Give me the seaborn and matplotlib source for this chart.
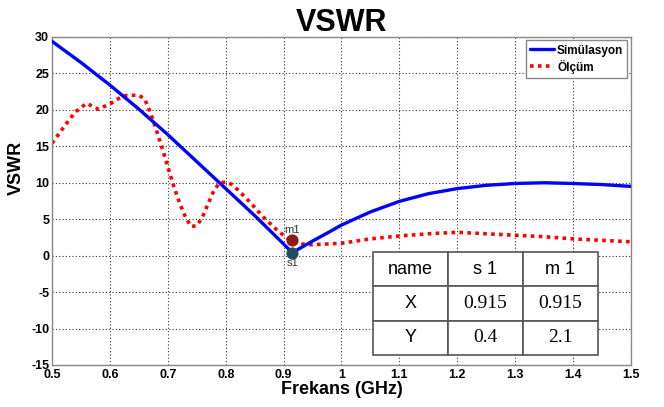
import matplotlib
matplotlib.use("Agg")
import matplotlib.pyplot as plt
import seaborn as sns
import pandas as pd
from matplotlib import font_manager

sns.set_theme(style="white")
names = {f.name for f in font_manager.fontManager.ttflist}
if "Liberation Sans Narrow" in names:
    sans, tick_size = "Liberation Sans Narrow", 10.5
elif "DejaVu Sans Condensed" in names:
    sans, tick_size = "DejaVu Sans Condensed", 10
else:
    sans, tick_size = "Liberation Sans", 9
plt.rcParams["font.family"] = [sans, "DejaVu Sans"]
plt.rcParams["axes.unicode_minus"] = False
plt.rcParams["text.color"] = "black"
plt.rcParams["axes.labelcolor"] = "black"

# Simulated VSWR
sim_freq = [0.50, 0.55, 0.60, 0.65, 0.70, 0.75, 0.80, 0.85, 0.90, 0.915,
            0.95, 0.98, 1.00, 1.05, 1.10, 1.15, 1.20, 1.25, 1.30, 1.35, 1.40, 1.45, 1.50]
sim_vswr = [29.4, 26.5, 23.4, 20.1, 16.6, 12.9, 9.2, 5.5, 1.6, 0.4,
            2.0, 3.3, 4.2, 6.0, 7.45, 8.5, 9.2, 9.65, 9.9, 10.0, 9.9, 9.75, 9.5]

# Measured VSWR
meas_freq = [0.50, 0.52, 0.54, 0.56, 0.58, 0.60, 0.62, 0.63, 0.65, 0.66, 0.67, 0.68,
             0.69, 0.70, 0.71, 0.72, 0.73, 0.74, 0.75, 0.76, 0.77, 0.78, 0.79, 0.80,
             0.81, 0.82, 0.84, 0.865, 0.89, 0.91, 0.93, 0.95, 1.00, 1.05, 1.10, 1.15,
             1.20, 1.25, 1.30, 1.35, 1.40, 1.45, 1.50]
meas_vswr = [15.4, 17.6, 19.7, 20.9, 20.1, 20.8, 21.8, 22.0, 22.0, 21.5, 19.6, 17.3,
             14.8, 12.2, 9.6, 7.3, 5.4, 4.0, 4.1, 5.3, 7.2, 9.0, 10.0, 10.1,
             9.8, 9.1, 7.5, 5.3, 3.4, 2.2, 1.6, 1.5, 1.7, 2.3, 2.7, 3.0,
             3.2, 3.0, 2.8, 2.6, 2.3, 2.1, 1.9]

# Data cursor markers
marker_names = ["s 1", "m 1"]
marker_x = [0.915, 0.915]
marker_y = [0.4, 2.1]

x_ticks = [0.5, 0.6, 0.7, 0.8, 0.9, 1.0, 1.1, 1.2, 1.3, 1.4, 1.5]
x_tick_labels = ["0.5", "0.6", "0.7", "0.8", "0.9", "1", "1.1", "1.2", "1.3", "1.4", "1.5"]
y_ticks = [-15, -10, -5, 0, 5, 10, 15, 20, 25, 30]

fig = plt.figure(figsize=(6.64, 4.07), dpi=100)
ax = fig.add_axes([0.0783, 0.1032, 0.872, 0.806])

sim = pd.DataFrame({"f": sim_freq, "v": sim_vswr})
meas = pd.DataFrame({"f": meas_freq, "v": meas_vswr})
sns.lineplot(data=sim, x="f", y="v", ax=ax, color="#0000ff", lw=2.4,
             label="Simülasyon", zorder=3)
sns.lineplot(data=meas, x="f", y="v", ax=ax, color="#ff0000", lw=2.6,
             linestyle=(0, (1, 1.2)), label="Ölçüm", zorder=2)

ax.scatter([marker_x[0]], [marker_y[0]], s=60, color="#1f4f5f", zorder=5)
ax.scatter([marker_x[1]], [marker_y[1]], s=60, color="#8b1a1a", zorder=5)
ax.text(marker_x[1], marker_y[1] + 0.8, "m1", fontsize=8, ha="center", va="bottom",
        color="#333333", zorder=6)
ax.text(marker_x[0], marker_y[0] - 0.7, "s1", fontsize=8, ha="center", va="top",
        color="#333333", zorder=6)

ax.set_xlim(0.5, 1.5)
ax.set_ylim(-15, 30)
ax.set_xticks(x_ticks)
ax.set_xticklabels(x_tick_labels)
ax.set_yticks(y_ticks)
ax.tick_params(direction="in", length=4, labelsize=tick_size, pad=2, colors="#000000")
ax.tick_params(axis="x", pad=3)
for lbl in ax.get_xticklabels() + ax.get_yticklabels():
    lbl.set_fontweight("bold")
ax.grid(True, color="#333333", linestyle=(0, (1, 2)), linewidth=0.8)
for sp in ax.spines.values():
    sp.set_color("#888888")
    sp.set_linewidth(1.0)

ax.set_title("VSWR", fontsize=22, fontweight="bold", pad=4, color="black")
ax.set_xlabel("Frekans (GHz)", fontsize=13, fontweight="bold", labelpad=0)
ax.set_ylabel("VSWR", fontsize=13, fontweight="bold")
ax.yaxis.set_label_coords(-0.047, 0.60)

leg = ax.legend(loc="upper right", frameon=True, fancybox=False,
                handlelength=2.0, handletextpad=0.3, borderpad=0.35, labelspacing=0.25,
                borderaxespad=0.3, prop={"weight": "bold", "size": 8.5})
leg.get_frame().set_edgecolor("#888888")
leg.get_frame().set_linewidth(1.0)
leg.get_frame().set_alpha(1.0)
for t in leg.get_texts():
    t.set_color("black")

# Cursor value table
cells = [["name"] + marker_names,
         ["X"] + [f"{v:.3f}" for v in marker_x],
         ["Y"] + [f"{v:.1f}" for v in marker_y]]
tbl = ax.table(cellText=cells, cellLoc="center",
               bbox=[0.554, 0.030, 0.389, 0.314], zorder=10)
tbl.auto_set_font_size(False)
for (r, c), cell in tbl.get_celld().items():
    cell.set_edgecolor("#555555")
    cell.set_linewidth(1.2)
    cell.set_facecolor("white")
    txt = cell.get_text()
    txt.set_fontsize(14)
    txt.set_color("black")
    if r == 0 or c == 0:
        txt.set_family(["Liberation Sans", "DejaVu Sans"])
        txt.set_fontsize(13)
    else:
        txt.set_family(["Liberation Serif", "DejaVu Serif"])

fig.savefig("out.png", dpi=100)
